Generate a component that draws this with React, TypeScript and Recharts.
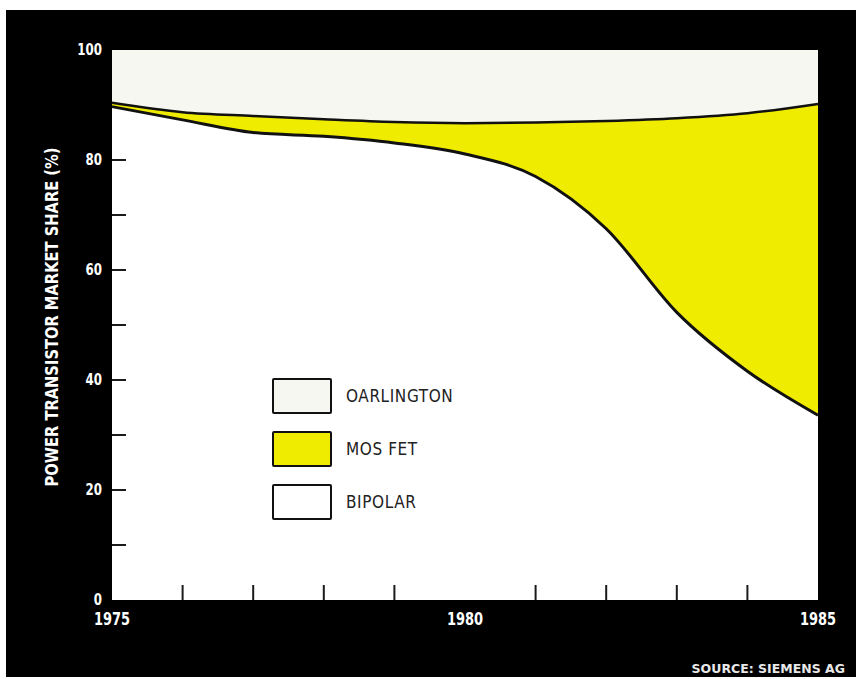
import React from 'react';
import { AreaChart, Area, XAxis, YAxis, Legend } from 'recharts';

const years = [1975, 1976, 1977, 1978, 1979, 1980, 1981, 1982, 1983, 1984, 1985];
const bipolar = [89.7, 87.3, 85.0, 84.3, 83.1, 81.1, 77.0, 67.5, 52.3, 41.6, 33.6];
const mosFet = [0.7, 1.4, 3.0, 3.1, 3.8, 5.6, 9.8, 19.6, 35.3, 46.9, 56.6];
const darlington = [9.6, 11.3, 12.0, 12.6, 13.1, 13.3, 13.2, 12.9, 12.4, 11.5, 9.8];

const yTicks = [0, 10, 20, 30, 40, 50, 60, 70, 80, 90, 100];
const yLabels = [0, 20, 40, 60, 80, 100];
const xLabels = [1975, 1980, 1985];

const legendItems = [
    { name: 'OARLINGTON', fill: '#f7f7f2' },
    { name: 'MOS FET', fill: '#f0ec00' },
    { name: 'BIPOLAR', fill: '#ffffff' },
];

const data = years.map((year, i) => ({
    year,
    bipolar: bipolar[i],
    mosFet: mosFet[i],
    darlington: darlington[i],
}));

const FONT = "'DejaVu Sans Condensed', 'Liberation Sans', sans-serif";

const YTick = (props: any) => {
    const { x, y, payload } = props;
    const v = payload.value;
    return (
        <g>
            {v > 0 && v < 90 && (
                <line x1={x} x2={x + 14} y1={y} y2={y} stroke="#1a1a1a" strokeWidth={2} />
            )}
            {yLabels.includes(v) && (
                <text transform={`translate(${x - 10},${y + 5}) scale(0.82,1)`} textAnchor="end" fill="#fff"
                    fontFamily={FONT} fontWeight="bold" fontSize={16}>{v}</text>
            )}
        </g>
    );
};

const XTick = (props: any) => {
    const { x, y, payload } = props;
    const v = payload.value;
    return (
        <g>
            {!xLabels.includes(v) && (
                <line x1={x} x2={x} y1={y} y2={y - 15} stroke="#1a1a1a" strokeWidth={2} />
            )}
            {xLabels.includes(v) && (
                <text transform={`translate(${x},${y + 25}) scale(0.85,1)`} textAnchor="middle" fill="#fff"
                    fontFamily={FONT} fontWeight="bold" fontSize={17}>{v}</text>
            )}
        </g>
    );
};

const renderLegend = () => (
    <div style={{ fontFamily: FONT }}>
        {legendItems.map((item) => (
            <div key={item.name} style={{ display: 'flex', alignItems: 'center', height: 53 }}>
                <div style={{
                    width: 56, height: 32, background: item.fill,
                    border: '2.5px solid #111', borderRadius: 2,
                }} />
                <span style={{ marginLeft: 14, fontSize: 17, color: '#222', letterSpacing: 0.6 }}>
                    {item.name}
                </span>
            </div>
        ))}
    </div>
);

export default function App() {
    return (
        <div style={{ position: 'absolute', left: 0, top: 0, width: 856, height: 679, background: '#fff' }}>
            <div style={{ position: 'absolute', left: 6, top: 10, right: 0, bottom: 2, background: '#000' }} />
            <div style={{ position: 'absolute', left: 0, top: 0 }}>
                <AreaChart width={856} height={679} data={data}
                    margin={{ top: 50, right: 38, bottom: 39, left: 62 }}>
                    {/* fills */}
                    <Area type="monotone" dataKey="bipolar" stackId="fill" fill="#ffffff" fillOpacity={1}
                        stroke="none" isAnimationActive={false} />
                    <Area type="monotone" dataKey="mosFet" stackId="fill" fill="#f0ec00" fillOpacity={1}
                        stroke="none" isAnimationActive={false} />
                    <Area type="monotone" dataKey="darlington" stackId="fill" fill="#f7f7f2" fillOpacity={1}
                        stroke="none" isAnimationActive={false} />
                    {/* outlines drawn on top */}
                    <Area type="monotone" dataKey="bipolar" stackId="line" fill="none"
                        stroke="#111" strokeWidth={3} isAnimationActive={false} />
                    <Area type="monotone" dataKey="mosFet" stackId="line" fill="none"
                        stroke="#111" strokeWidth={2.5} isAnimationActive={false} />
                    <XAxis dataKey="year" type="number" domain={[1975, 1985]} ticks={years}
                        axisLine={false} tickLine={false} tickSize={0} tickMargin={0} height={40}
                        tick={<XTick />} interval={0} />
                    <YAxis type="number" domain={[0, 100]} ticks={yTicks} axisLine={false}
                        tickLine={false} tickSize={0} tickMargin={0} width={50}
                        tick={<YTick />} interval={0} />
                    <Legend content={renderLegend} layout="vertical" align="center" verticalAlign="middle"
                        wrapperStyle={{ position: 'absolute', left: 272, top: 369, width: 250 }} />
                </AreaChart>
            </div>
            <div style={{
                position: 'absolute', left: 52, top: 317,
                transform: 'translate(-50%, -50%) rotate(-90deg) scaleX(0.96)',
                color: '#fff', fontFamily: FONT, fontWeight: 'bold', fontSize: 17, whiteSpace: 'nowrap',
            }}>
                POWER TRANSISTOR MARKET SHARE (%)
            </div>
            <div style={{
                position: 'absolute', right: 11, top: 661, color: '#e8e8e8',
                fontFamily: "'DejaVu Sans', sans-serif", fontWeight: 'bold', fontSize: 12.5,
            }}>
                SOURCE: SIEMENS AG
            </div>
        </div>
    );
}
